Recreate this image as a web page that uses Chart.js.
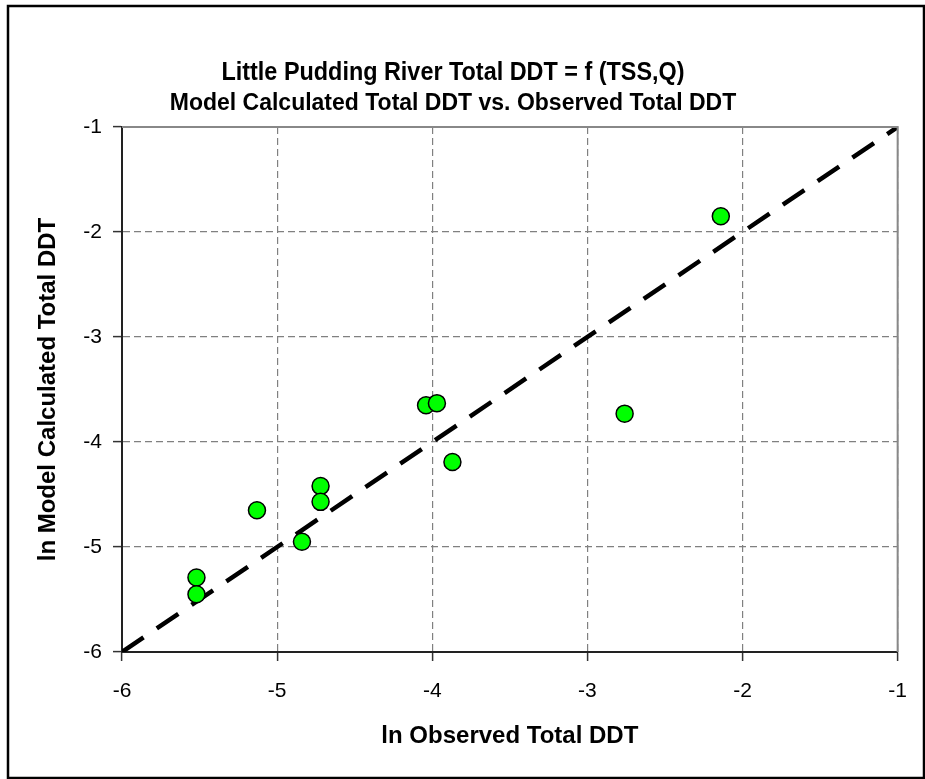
<!DOCTYPE html>
<html>
<head>
<meta charset="utf-8">
<script src="https://cdn.jsdelivr.net/npm/chart.js@4"></script>
<style>
  body { margin: 0; background: #fff; }
  #wrap { width: 925px; height: 779px; }
</style>
</head>
<body>
<div id="wrap"><canvas id="myChart" width="925" height="779"></canvas></div>
<script>
// ln observed vs ln model calculated total DDT
var observado = [-2.14, -4.04, -3.97, -3.87, -2.76, -4.72, -4.72, -5.13, -4.84, -5.52, -5.52];
var calculado = [-1.85, -3.65, -3.63, -4.19, -3.73, -4.42, -4.57, -4.65, -4.95, -5.29, -5.45];
// 1:1 line
var lineaX = [-6, -1];
var lineaY = [-6, -1];
var ticksEje = [-6, -5, -4, -3, -2, -1];

var titulo = 'Little Pudding River Total DDT = f (TSS,Q)';
var subtitulo = 'Model Calculated Total DDT vs. Observed Total DDT';

var puntos = [];
for (var i in observado) {
    puntos.push({x: observado[i], y: calculado[i]});
}
var linea = [];
for (var j in lineaX) {
    linea.push({x: lineaX[j], y: lineaY[j]});
}

var fuente = "'Liberation Sans', Arial, sans-serif";

// marco del grafico y borde superior/derecho del area
var marco = {
    id: 'marco',
    beforeDraw: function(chart) {
        // titulo principal algo mas estrecho
        chart.boxes.forEach(function(b) {
            if (b.options && b.options.text === titulo && !b._estrecho) {
                var dibujar = b.draw;
                b.draw = function() {
                    var cx = (this.left + this.right) / 2;
                    this.ctx.save();
                    this.ctx.translate(cx, 0);
                    this.ctx.scale(0.9, 1);
                    this.ctx.translate(-cx, 0);
                    dibujar.apply(this, arguments);
                    this.ctx.restore();
                };
                b._estrecho = true;
            }
        });
    },
    afterDraw: function(chart) {
        var ctx = chart.ctx;
        var a = chart.chartArea;
        ctx.save();
        ctx.strokeStyle = '#888';
        ctx.lineWidth = 2;
        ctx.beginPath();
        ctx.moveTo(a.left, a.top);
        ctx.lineTo(a.right, a.top);
        ctx.lineTo(a.right, a.bottom);
        ctx.stroke();
        ctx.strokeStyle = '#000';
        ctx.lineWidth = 2.5;
        ctx.beginPath();
        ctx.moveTo(8, chart.height);
        ctx.lineTo(8, 6);
        ctx.lineTo(chart.width - 1, 6);
        ctx.lineTo(chart.width - 1, chart.height - 1);
        ctx.lineTo(8, chart.height - 1);
        ctx.stroke();
        ctx.restore();
    }
};

var ejeComun = function(texto) {
    return {
        type: 'linear',
        min: -6,
        max: -1,
        afterBuildTicks: function(scale) {
            scale.ticks = ticksEje.map(function(v) { return {value: v}; });
        },
        grid: {
            color: '#808080',
            lineWidth: 1.2,
            tickColor: '#333',
            tickWidth: 1.5,
            tickLength: 9,
            tickBorderDash: []
        },
        border: { color: '#222', width: 2, dash: [7, 4] },
        ticks: {
            color: '#000',
            font: { family: fuente, size: 21 }
        },
        title: {
            display: true,
            text: texto,
            color: '#000',
            font: { family: fuente, size: 24, weight: 'bold' }
        }
    };
};

var ejeX = ejeComun('ln Observed Total DDT');
ejeX.ticks.padding = 18;
ejeX.title.padding = { top: 0, bottom: 28 };
ejeX.afterFit = function(scale) { scale.height = 127; };

var ejeY = ejeComun('ln Model Calculated Total DDT');
ejeY.ticks.padding = 11;
ejeY.title.padding = { top: 34, bottom: 0 };
ejeY.afterFit = function(scale) { scale.width = 122; };

var newChar = document.getElementById('myChart');
var charGrafico = new Chart(newChar, {
    type: 'scatter',
    data: {
        datasets: [{
            label: 'Calculado vs Observado',
            data: puntos,
            backgroundColor: '#00ff00',
            borderColor: '#000',
            borderWidth: 1.5,
            pointRadius: 8.5,
            pointHoverRadius: 8.5
        }, {
            label: '1:1',
            type: 'line',
            data: linea,
            borderColor: '#000',
            borderWidth: 4.5,
            borderDash: [26, 16],
            pointRadius: 0,
            fill: false
        }]
    },
    options: {
        responsive: false,
        animation: false,
        devicePixelRatio: 1,
        layout: { padding: { left: 0, right: 19, top: 0, bottom: 0 } },
        plugins: {
            legend: { display: false },
            tooltip: { enabled: false },
            title: {
                display: true,
                text: titulo,
                color: '#000',
                font: { family: fuente, size: 26, weight: 'bold', lineHeight: 1 },
                padding: { top: 60, bottom: 0 }
            },
            subtitle: {
                display: true,
                text: subtitulo,
                color: '#000',
                font: { family: fuente, size: 23, weight: 'bold', lineHeight: 1 },
                padding: { top: 6, bottom: 12 }
            }
        },
        scales: {
            x: ejeX,
            y: ejeY
        }
    },
    plugins: [marco]
});
</script>
</body>
</html>
